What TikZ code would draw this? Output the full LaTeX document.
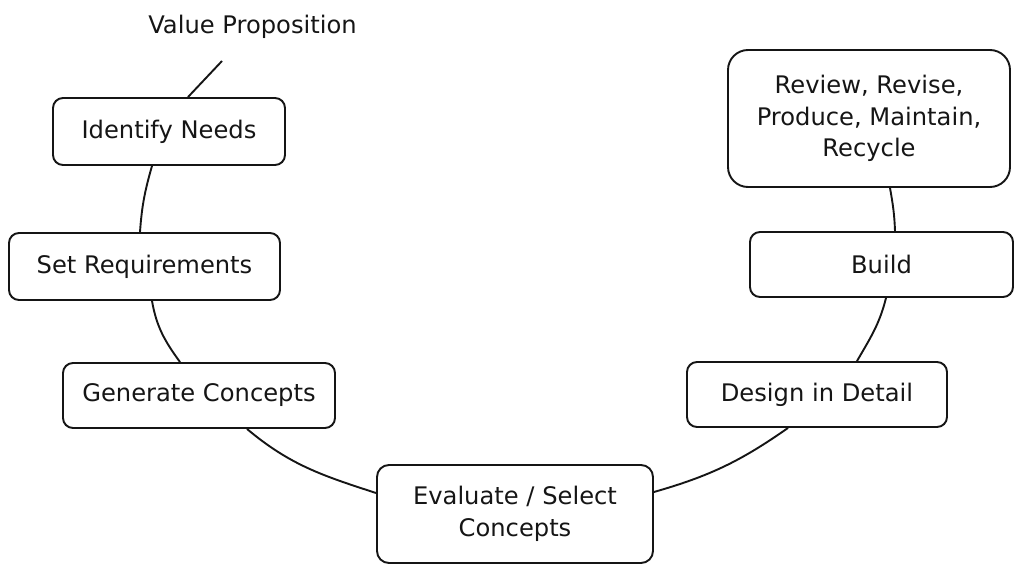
\documentclass[tikz,border=0pt]{standalone}
\usepackage{fontspec}
\setmainfont{DejaVu Sans}
\usetikzlibrary{calc}
\definecolor{ink}{HTML}{151515}
\begin{document}
\begin{tikzpicture}[x=1pt,y=-1pt,
  lbl/.style={font=\fontsize{24.2}{31.5}\selectfont, text=ink},
  stepbox/.style={lbl, draw=ink, line width=1.9pt, rounded corners=10pt,
    inner sep=0pt, align=center},
  bigbox/.style={stepbox, rounded corners=20pt},
  link/.style={draw=ink, line width=1.9pt}]
\useasboundingbox (0,0) rectangle (1015,565);

\node[lbl, anchor=base] (vp) at (252.5,33) {Value Proposition};
\coordinate (vptip) at (222,61);

\node[stepbox, minimum width=232pt, minimum height=67pt] (idn) at (169,131.5) {Identify Needs};
\node[stepbox, minimum width=271pt, minimum height=67pt] (sr) at (144.5,266.5) {Set Requirements};
\node[stepbox, minimum width=272pt, minimum height=65pt] (gc) at (199,395.5) {Generate Concepts};
\node[stepbox, minimum width=276pt, minimum height=98pt, rounded corners=12pt] (ev) at (515,514) {Evaluate / Select\\Concepts};
\node[stepbox, minimum width=260pt, minimum height=65pt] (dd) at (817,394.5) {Design in Detail};
\node[stepbox, minimum width=263pt, minimum height=65pt] (bd) at (881.5,264.5) {Build};
\node[bigbox, minimum width=282pt, minimum height=137pt] (rv) at (869,118.5) {Review, Revise,\\Produce, Maintain,\\Recycle};

\draw[link] (vptip) -- ($(idn.north)+(19,0)$);
\draw[link] ($(idn.south)+(-17,0)$) to[out=-106,in=86] ($(sr.north)+(-4.5,0)$);
\draw[link] ($(sr.south)+(7.5,0)$) to[out=-80,in=126] ($(gc.north)+(-19,0)$);
\draw[link] ($(gc.south)+(48,0)$) to[out=-40,in=162] ($(ev.west)+(0,-21)$);
\draw[link] ($(ev.east)+(0,-22)$) to[out=16,in=-145] ($(dd.south)+(-29,0)$);
\draw[link] ($(dd.north)+(40,0)$) to[out=60,in=-104] ($(bd.south)+(4.5,0)$);
\draw[link] ($(bd.north)+(13.5,0)$) to[out=92,in=-80] ($(rv.south)+(21,0)$);
\end{tikzpicture}
\end{document}
